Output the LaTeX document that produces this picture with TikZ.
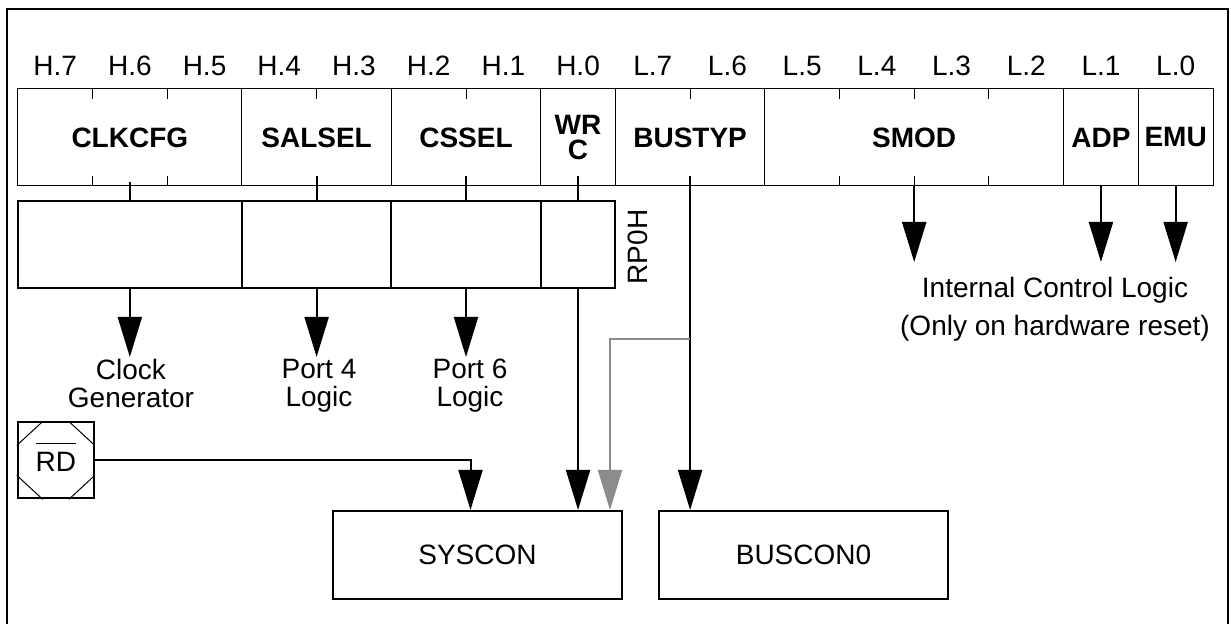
\documentclass[tikz,border=0pt]{standalone}
\usepackage{fontspec}
\setmainfont{Liberation Sans}
\usetikzlibrary{arrows.meta,positioning,calc}
\definecolor{ink}{HTML}{000000}
\definecolor{shade}{HTML}{8C8C8C}
\tikzset{
  base/.style={font=\fontsize{14}{14}\selectfont,align=center,inner sep=0pt,text=ink},
  field/.style={base,draw=ink,line width=0.5pt,minimum height=48.5pt,font=\fontsize{14}{12.5}\selectfont\bfseries},
  latch/.style={draw=ink,line width=1pt,minimum height=43.5pt,inner sep=0pt},
  bitlabel/.style={base},
  target/.style={base,inner sep=1pt},
  note/.style={base,font=\fontsize{14}{19}\selectfont,inner xsep=0pt,inner ysep=7.5pt},
  reg/.style={base,draw=ink,line width=1pt,minimum width=144.5pt,minimum height=44pt},
  pin/.style={base,draw=ink,line width=1pt,minimum size=38pt,text height=11pt,text depth=0pt},
  tick/.style={draw=ink,line width=0.5pt},
  frame/.style={draw=ink,line width=1pt},
  wire/.style={draw=ink,line width=1pt},
  flow/.style={-{Triangle[length=20pt,width=12pt]},line width=1pt,draw=ink},
  grayflow/.style={flow,draw=shade}
}

\begin{document}
\begin{tikzpicture}[x=0.5pt,y=-0.5pt]
\useasboundingbox (0,0) rectangle (1231,624);
\draw[frame] (6.5,624) -- (6.5,9) -- (1228,9) -- (1228,624);

% bit numbers
\node[bitlabel] (h7) at (55.15,66) {H.7};
\node[bitlabel] (h6) at (129.85,66) {H.6};
\node[bitlabel] (h5) at (204.55,66) {H.5};
\node[bitlabel] (h4) at (279.25,66) {H.4};
\node[bitlabel] (h3) at (353.95,66) {H.3};
\node[bitlabel] (h2) at (428.65,66) {H.2};
\node[bitlabel] (h1) at (503.35,66) {H.1};
\node[bitlabel] (h0) at (578.05,66) {H.0};
\node[bitlabel] (l7) at (652.75,66) {L.7};
\node[bitlabel] (l6) at (727.45,66) {L.6};
\node[bitlabel] (l5) at (802.15,66) {L.5};
\node[bitlabel] (l4) at (876.85,66) {L.4};
\node[bitlabel] (l3) at (951.55,66) {L.3};
\node[bitlabel] (l2) at (1026.25,66) {L.2};
\node[bitlabel] (l1) at (1100.95,66) {L.1};
\node[bitlabel] (l0) at (1175.65,66) {L.0};

% register fields
\node[field,minimum width=112.05pt] (clkcfg) at (129.85,137.5) {CLKCFG};
\node[field,minimum width=74.7pt] (salsel) at (316.6,137.5) {SALSEL};
\node[field,minimum width=74.7pt] (cssel) at (466,137.5) {CSSEL};
\node[field,minimum width=37.35pt] (wrc) at (578.05,137.5) {WR\\C};
\node[field,minimum width=74.7pt] (bustyp) at (690.1,137.5) {BUSTYP};
\node[field,minimum width=149.4pt] (smod) at (914.2,137.5) {SMOD};
\node[field,minimum width=37.35pt] (adp) at (1100.95,137.5) {ADP};
\node[field,minimum width=37.35pt] (emu) at (1175.65,137.5) {EMU};
\foreach \k in {1,2,4,6,9,11,12,13} {
  \draw[tick] (17.8+74.7*\k,89) -- ++(0,10);
  \draw[tick] (17.8+74.7*\k,186) -- ++(0,-10);
}

% RP0H latch
\node[latch,minimum width=112.05pt] (rclk) at (129.85,244.5) {};
\node[latch,minimum width=74.7pt] (rsal) at (316.6,244.5) {};
\node[latch,minimum width=74.7pt] (rcs) at (466,244.5) {};
\node[latch,minimum width=37.35pt] (rwrc) at (578.05,244.5) {};
\node[base,rotate=90] (rp0h) at (638,247) {RP0H};

\node[target,anchor=north] (clkgen) at (131,357) {Clock\\Generator};
\node[target,anchor=north] (port4) at (319,357) {Port 4\\Logic};
\node[target,anchor=north] (port6) at (470,357) {Port 6\\Logic};
\node[note,anchor=north] (ictl) at (1055,262) {Internal Control Logic\\(Only on hardware reset)};

\node[pin] (rd) at (55.8,460.4) {$\overline{\mbox{\rule{0pt}{12.8pt}RD}}$};
\draw[tick] ([xshift=13pt]rd.north west) -- ([yshift=-12pt]rd.north west);
\draw[tick] ([xshift=-13pt]rd.north east) -- ([yshift=-12pt]rd.north east);
\draw[tick] ([xshift=13pt]rd.south west) -- ([yshift=12pt]rd.south west);
\draw[tick] ([xshift=-13pt]rd.south east) -- ([yshift=12pt]rd.south east);

\node[reg] (syscon) at (477.5,555) {SYSCON};
\node[reg] (buscon) at (803.5,555) {BUSCON0};

\draw[wire] ([yshift=2pt]clkcfg.south) -- (rclk.north);
\draw[wire] ([yshift=5pt]salsel.south) -- (rsal.north);
\draw[wire] ([yshift=5pt]cssel.south) -- (rcs.north);
\draw[wire] ([yshift=5pt]wrc.south) -- (rwrc.north);
\draw[flow] (rclk.south) -- (rclk.south |- clkgen.north);
\draw[flow] (rsal.south) -- (rsal.south |- port4.north);
\draw[flow] (rcs.south) -- (rcs.south |- port6.north);
\draw[flow] (smod.south) -- (smod.south |- ictl.north);
\draw[flow] (adp.south) -- (adp.south |- ictl.north);
\draw[flow] (emu.south) -- (emu.south |- ictl.north);
\draw[flow] (rwrc.south) -- (rwrc.south |- syscon.north);
\draw[flow] (rd.east) -| ([xshift=-3.5pt]syscon.north);
\draw[flow] ([yshift=5pt]bustyp.south) -- (bustyp.south |- buscon.north);
\coordinate (tap) at ([yshift=-76.5pt]bustyp.south);
\draw[grayflow] (tap) -| ([xshift=-6.5pt]syscon.north east);
\end{tikzpicture}
\end{document}
